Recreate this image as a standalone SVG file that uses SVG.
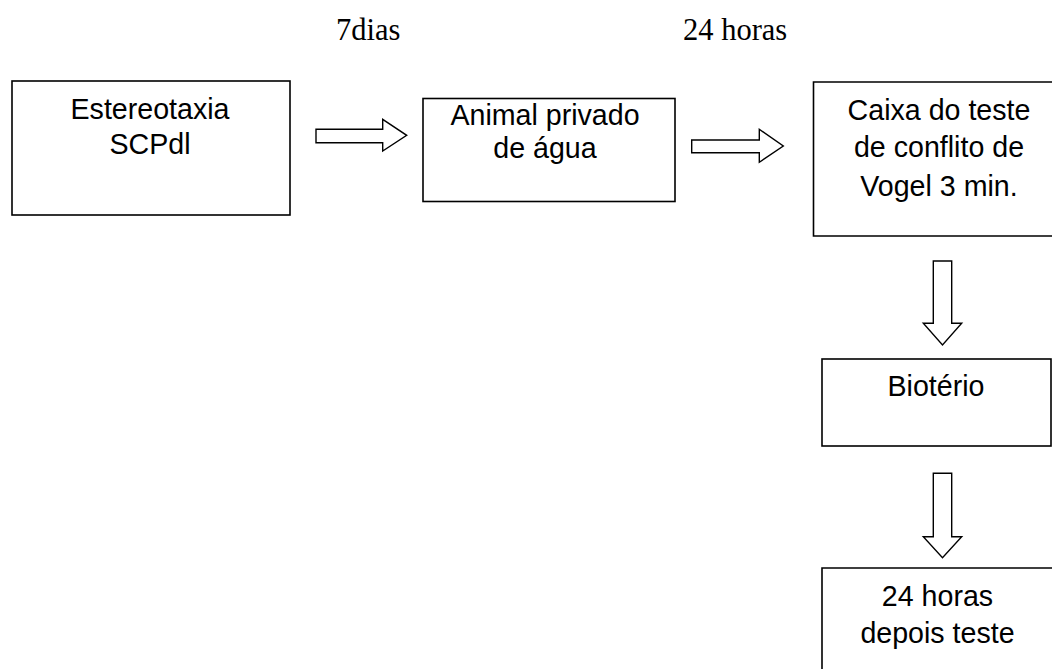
<svg xmlns="http://www.w3.org/2000/svg" width="1052" height="669" viewBox="0 0 1052 669">
<style>
.box{fill:#fff;stroke:#000;stroke-width:1.6}
.arr{fill:#fff;stroke:#000;stroke-width:1.4;stroke-linejoin:miter}
.t{font-family:"Liberation Sans",Arial,sans-serif;font-size:28.6px;fill:#000;text-anchor:middle}
.lbl{font-family:"Liberation Serif","Times New Roman",serif;font-size:30.5px;fill:#000}
</style>
<rect width="1052" height="669" fill="#fff"/>
<text class="lbl" x="336" y="40">7dias</text>
<text class="lbl" x="683" y="40">24 horas</text>
<g id="n1">
<rect class="box" x="12" y="81" width="278" height="134"/>
<text class="t" x="150" y="119">Estereotaxia</text>
<text class="t" x="150" y="154">SCPdl</text>
</g>
<g id="n2">
<rect class="box" x="423" y="98.5" width="252" height="103"/>
<text class="t" x="545" y="125">Animal privado</text>
<text class="t" x="545" y="158">de água</text>
</g>
<g id="n3">
<path class="box" d="M1060,82 H813.5 V236 H1060"/>
<text class="t" x="939" y="120">Caixa do teste</text>
<text class="t" x="939" y="157">de conflito de</text>
<text class="t" x="939" y="196">Vogel 3 min.</text>
</g>
<g id="n4">
<rect class="box" x="822" y="359" width="229" height="87"/>
<text class="t" x="936" y="396">Biotério</text>
</g>
<g id="n5">
<path class="box" d="M1060,568 H822 V680"/>
<text class="t" x="937.5" y="606">24 horas</text>
<text class="t" x="937.5" y="643">depois teste</text>
</g>
<g id="connectors">
<path class="arr" d="M316,129.3 H382.7 V119.3 L406.7,135.3 L382.7,151 V142.7 H316 Z"/>
<path class="arr" d="M691.7,140 H759.3 V129.3 L783.3,146 L759.3,162.3 V152.7 H691.7 Z"/>
<path class="arr" d="M933.3,261 H951.7 V323.3 H961.7 L942.5,345 L923.3,323.3 H933.3 Z"/>
<path class="arr" d="M933.3,473.3 H951.7 V536.7 H961.7 L942.5,557.7 L923.3,536.7 H933.3 Z"/>
</g>
</svg>
